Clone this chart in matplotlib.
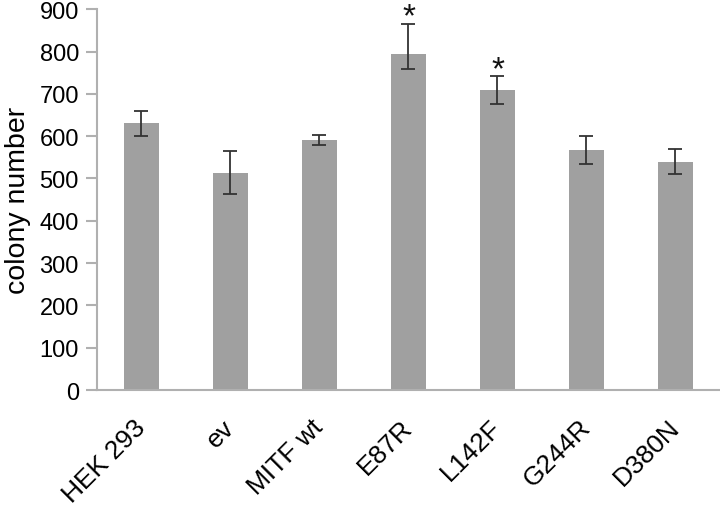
import matplotlib
matplotlib.use("Agg")
import matplotlib.pyplot as plt
import matplotlib.transforms as mtransforms
import numpy as np

plt.rcParams['font.family'] = ['Liberation Sans', 'DejaVu Sans']

categories = ["HEK 293", "ev", "MITF wt", "E87R", "L142F", "G244R", "D380N"]
values = [630, 514, 590, 793, 709, 568, 540]
err_lower = [30, 50, 12, 35, 32, 33, 30]
err_upper = [30, 50, 12, 72, 32, 33, 30]
significant = [False, False, False, True, True, False, False]

fig = plt.figure(figsize=(7.2, 5.1), dpi=100)
ax = fig.add_axes([0.1347, 0.2333, 0.8653, 0.7467])

x = np.arange(len(categories))
ax.bar(x, values, width=0.4, color="#a0a0a0", zorder=2)
ax.errorbar(x, values, yerr=[err_lower, err_upper], fmt="none", ecolor="#333333",
            elinewidth=1.3, capsize=5, capthick=1.3, zorder=3)

for xi, v, eu, s in zip(x, values, err_upper, significant):
    if s:
        ax.text(xi, v + eu - 4, "*", ha="center", va="baseline", fontsize=24,
                color="#111111", clip_on=False)

ax.set_xlim(-0.5, len(categories) - 0.5)
ax.set_ylim(0, 900)
ax.set_yticks(np.arange(0, 901, 100))
ax.set_xticks(x)
ax.set_xticklabels(categories, rotation=45, ha="right", va="center",
                   rotation_mode="anchor", fontsize=19)
offset = mtransforms.ScaledTranslation(13 / 100, 0, fig.dpi_scale_trans)
for lab in ax.get_xticklabels():
    lab.set_transform(lab.get_transform() + offset)
ax.tick_params(axis="y", labelsize=17, length=8, color="#b0b0b0", width=1.5, pad=5)
ax.tick_params(axis="x", length=0, pad=24)
ax.set_ylabel("colony number", fontsize=20.5, labelpad=6)

for side in ["top", "right"]:
    ax.spines[side].set_visible(False)
for side in ["left", "bottom"]:
    ax.spines[side].set_color("#b0b0b0")
    ax.spines[side].set_linewidth(1.5)

fig.savefig("out.png", dpi=100)
